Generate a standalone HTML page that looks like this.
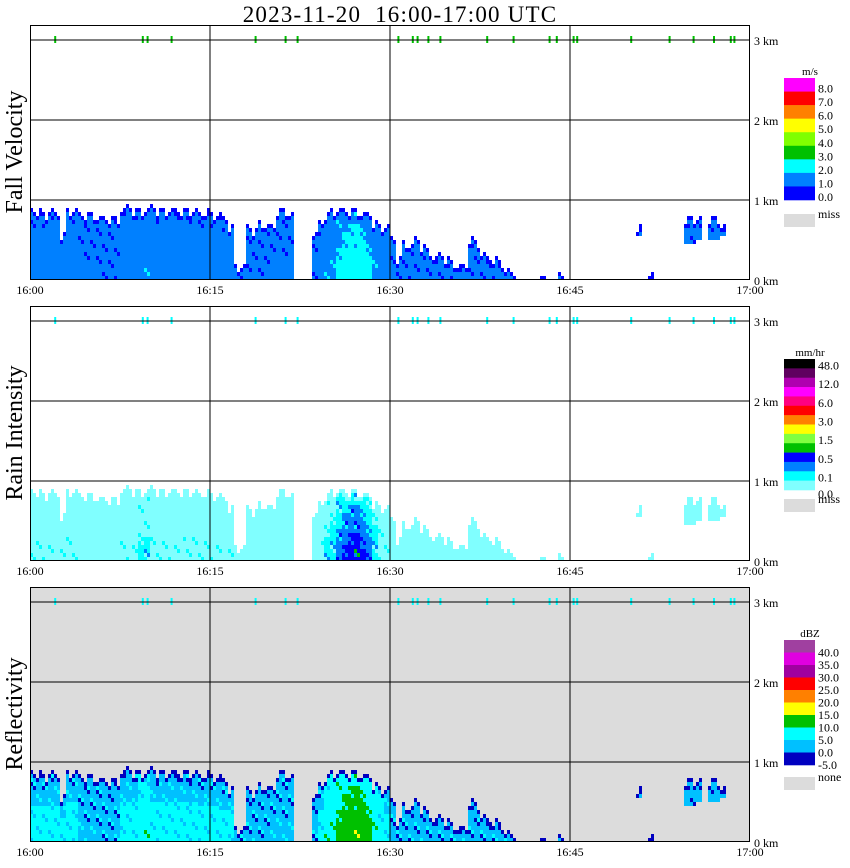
<!DOCTYPE html>
<html><head><meta charset="utf-8"><style>
body{margin:0;background:#fff}
svg{display:block;font-family:"Liberation Serif",serif}
</style></head><body>
<svg id="chart" width="850" height="868" viewBox="0 0 850 868" xmlns="http://www.w3.org/2000/svg">
<text x="400" y="22" font-size="23" text-anchor="middle" letter-spacing="1.2" style="white-space:pre">2023-11-20  16:00-17:00 UTC</text>
</svg>
<script>
// ---- data (30-second bins, 16:00-17:00) ----
const binTops = [0.88,0.88,0.86,0.88,0.87,0.6,0.92,0.92,0.85,0.85,0.83,0.8,0.8,0.78,0.8,0.92,0.93,0.92,0.92,0.92,0.93,0.92,0.9,0.92,0.9,0.92,0.88,0.9,0.85,0.92,
0.85,0.85,0.8,0.72,0.2,0.2,0.7,0.65,0.75,0.72,0.7,0.88,0.88,0.85,0,0,0,0.6,0.75,0.85,0.88,0.9,0.9,0.9,0.88,0.87,0.83,0.75,0.72,0.7,
0.55,0.3,0.5,0.45,0.55,0.45,0.4,0.3,0.35,0.3,0.25,0.2,0.2,0.55,0.5,0.35,0.3,0.3,0.25,0.15,0.1,0,0,0,0,0.05,0,0,0.1,0,
0,0,0,0,0,0,0,0,0,0,0,0.7,0,0.1,0,0,0,0,0,0.82,0.82,0.78,0,0.8,0.78,0.72,0,0,0,0];
const binBottoms = [0,0,0,0,0,0,0,0,0,0,0,0,0,0,0,0,0,0,0,0,0,0,0,0,0,0,0,0,0,0,
0,0,0,0,0,0,0,0,0,0,0,0,0,0,0,0,0,0,0,0,0,0,0,0,0,0,0,0,0,0,
0,0,0,0,0,0,0,0,0,0,0,0,0,0,0,0,0,0,0,0,0,0,0,0,0,0,0,0,0,0,
0,0,0,0,0,0,0,0,0,0,0,0.55,0,0,0,0,0,0,0,0.45,0.45,0.5,0,0.5,0.5,0.55,0,0,0,0];
const binCores = [2,2,2,2,2,2,2,2,1.5,1.5,1.5,1.5,1,1,1,2,2,2,3,3,2,2,2,2,2,2,2,2,2,2,
2,2,2,2,1,1,1,1,1,1,1.5,1.5,1.5,1.5,0,0,0,1,2,3,3.5,4.5,5,5.5,5.5,5,4.5,3.5,2.5,2,
1,1,1,1,1,1,1,1,1,1,1,1,1,1,1,1,1,1,1,1,1,0,0,0,0,1,0,0,1,0,
0,0,0,0,0,0,0,0,0,0,0,1,0,1,0,0,0,0,0,1,1,1,0,1,1,1,0,0,0,0];
const topSpecks = [2.1,9.4,9.8,11.8,18.8,21.3,22.3,30.7,31.9,32.3,33.2,34.2,38.1,40.3,43.3,43.9,45.3,45.6,50.1,53.3,55.3,57,58.4,58.7];
const timeLabels = ["16:00","16:15","16:30","16:45","17:00"];
const kmLabels = ["0 km","1 km","2 km","3 km"];
const fvBarLabels = ["8.0","7.0","6.0","5.0","4.0","3.0","2.0","1.0","0.0"];
const rainBarLabels = ["48.0","","12.0","","6.0","","3.0","","1.5","","0.5","","0.1"];
const dbzBarLabels = ["40.0","35.0","30.0","25.0","20.0","15.0","10.0","5.0","0.0","-5.0"];
// ---- drawing ----
const svg=document.getElementById('chart');
const NS='http://www.w3.org/2000/svg';
const X0=30,X1=750,PH=255;
const panels=[
 {top:25,name:'fall-velocity',title:'Fall Velocity',bg:'#fff',speck:'#00c000',
  pal:['#0000ff','#0080ff','#0080ff','#0080ff','#00ffff','#00ffff','#00ffff'],low:'#0000ff',
  bar:['#ff00ff','#ff0000','#ff8000','#ffff00','#80ff00','#00c000','#00ffff','#0080ff','#0000ff'],barTop:78,barH:122,unit:'m/s',labels:fvBarLabels,miss:'miss',missY:214},
 {top:306,name:'rain-intensity',title:'Rain Intensity',bg:'#fff',speck:'#00ffff',
  pal:['#80ffff','#80ffff','#80ffff','#00ffff','#0080ff','#0000ff','#00c000'],low:'#ffffff',
  bar:['#000000','#600060','#b000b0','#ff00ff','#ff0080','#ff0000','#ff8000','#ffff00','#80ff40','#00c000','#0000ff','#0080ff','#00ffff','#80ffff'],barTop:359,barH:131,unit:'mm/hr',labels:rainBarLabels,miss:'miss',missY:499},
 {top:587,name:'reflectivity',title:'Reflectivity',bg:'#dcdcdc',speck:'#00ffff',
  pal:['#0000c0','#00c0ff','#00ffff','#00ffff','#00c000','#00c000','#ffff00'],low:'#ffffff',
  bar:['#a040a0','#e000e0','#a000a0','#ff0000','#ff8000','#ffff00','#00c000','#00ffff','#00c0ff','#0000c0'],barTop:640,barH:125,unit:'dBZ',labels:dbzBarLabels,miss:'none',missY:777}
];
function xs(min){return X0+min*(X1-X0)/60;}
function el(tag,attrs,parent){const e=document.createElementNS(NS,tag);for(const k in attrs)e.setAttribute(k,attrs[k]);(parent||svg).appendChild(e);return e;}
panels.forEach((p,pi)=>{
 const g=el('g',{});
 
 
 const base=p.top+PH;
 const ys=km=>base-km*80;
 const bg=el('rect',{x:X0,y:p.top,width:X1-X0,height:PH,fill:p.bg},g);
 
 
 const bw=(X1-X0)/binTops.length/2;
 binTops.forEach((t,i)=>{
  if(t<=0)return;
  const b=binBottoms[i],c=binCores[i];
  for(let h=0;h<2;h++){
   const jag=(i*7+h*5)%4;
   const rows=Math.max(1,Math.round((t-b)/0.05)-(jag===3?2:jag===1?1:0));
   for(let j=0;j<rows;j++){
    const km=b+j*0.05;
    const rel=(km+0.05)/t;
    const tt=(i*5+h*3+j*3)%7;
    const tex=tt===0?-1:(tt===3?1:0);
    let v=Math.round(c*(1-0.45*rel)+tex*0.8);
    if(j===rows-1)v=0;
    let col;
    if(v<0)col=p.low;else col=p.pal[Math.min(v,p.pal.length-1)];
    const r=el('rect',{x:xs(i*0.5)+h*bw,y:ys(km+0.05),width:bw,height:4,fill:col},g);
    
    
   }
  }
 });
 topSpecks.forEach(m=>{
  const s=el('rect',{x:xs(m)-1,y:ys(3)-4,width:2,height:7,fill:p.speck},g);
  
  
 });
 for(let k=1;k<=3;k++){
  const l=el('line',{x1:X0,x2:X1,y1:ys(k),y2:ys(k),stroke:'#000','stroke-width':1},g);
  
  
 }
 for(let k=1;k<=3;k++){
  const l=el('line',{x1:xs(k*15),x2:xs(k*15),y1:p.top,y2:base,stroke:'#000','stroke-width':1},g);
  
  
 }
 const fr=el('rect',{x:X0+0.5,y:p.top+0.5,width:X1-X0-1,height:PH-1,fill:'none',stroke:'#000','stroke-width':1},g);
 
 
 kmLabels.forEach((lb,k)=>{
  const t=el('text',{x:754,y:ys(k)+5,'font-size':12},g);t.textContent=lb;
  
  
 });
 timeLabels.forEach((lb,k)=>{
  const t=el('text',{x:xs(k*15),y:base+14,'font-size':12,'text-anchor':'middle'},g);t.textContent=lb;
  
  
 });
 const yt=el('text',{x:0,y:0,'font-size':24,'text-anchor':'middle',transform:`translate(22,${p.top+127}) rotate(-90)`},g);
 yt.textContent=p.title;
 
 
 const cb=el('g',{},g);
 
 
 const n=p.bar.length,h=p.barH/n;
 p.bar.forEach((c,k)=>{
  const r=el('rect',{x:784,y:p.barTop+k*h,width:31,height:h+0.3,fill:c},cb);
  
  
 });
 const u=el('text',{x:810,y:p.barTop-3,'font-size':11,'text-anchor':'middle'},cb);u.textContent=p.unit;
 
 
 p.labels.forEach((lb,k)=>{
  if(!lb)return;
  const t=el('text',{x:818,y:p.barTop+(k+1)*h+(pi===2?4:1),'font-size':12},cb);t.textContent=lb;
  
  
 });
 if(pi===1){const t=el('text',{x:818,y:p.barTop+p.barH+8,'font-size':12},cb);t.textContent='0.0';
  
  }
 const ms=el('rect',{x:784,y:p.missY,width:31,height:13,fill:'#dcdcdc'},cb);
 
 
 const mt=el('text',{x:818,y:p.missY+4,'font-size':12},cb);mt.textContent=p.miss;
 
 
});
</script>
</body></html>
